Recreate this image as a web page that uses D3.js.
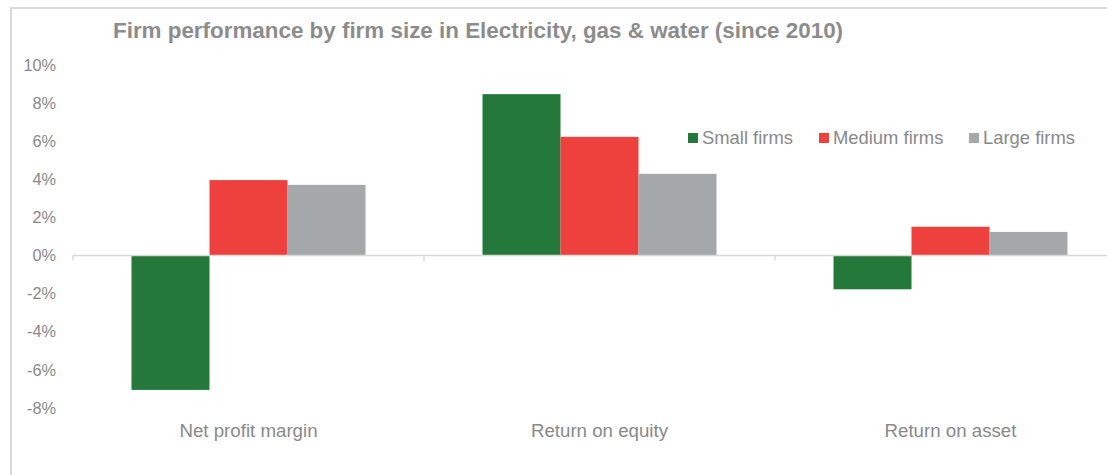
<html>
<head>
<title>Firm performance</title>
<script type="text/javascript" src="https://cdn.jsdelivr.net/npm/d3@7"></script>
<style type="text/css">
body { margin: 0; background: white; }
text { font-family: "Liberation Sans", Arial, sans-serif; fill: #898989; }
</style>
</head>
<body>
<script>

  var width = 1107,
  height = 475;

  var categories = ["Net profit margin", "Return on equity", "Return on asset"];
  var seriesNames = ["Small firms", "Medium firms", "Large firms"];
  var colors = ["#23783a", "#ee403d", "#a5a8aa"];
  var small = [-7.05, 8.47, -1.77];
  var medium = [3.96, 6.23, 1.51];
  var large = [3.71, 4.29, 1.24];
  var yTicks = [-8, -6, -4, -2, 0, 2, 4, 6, 8, 10];

  var values = [small, medium, large];

  var svg = d3.select("body").append("svg").attr("width", width).attr("height", height).style("background", "white");

  // chart border (runs off the right and bottom of the picture)
  svg.append("rect").attr("x", 11).attr("y", 8).attr("width", 1130).attr("height", 500)
  .attr("fill", "none").attr("stroke", "#d9d9d9").attr("stroke-width", 2);

  svg.append("text").text("Firm performance by firm size in Electricity, gas & water (since 2010)")
  .attr("x", 113).attr("y", 38).attr("font-size", 22.4).attr("font-weight", "bold")
  .style("fill", "#8c8c8c");

  var x = d3.scaleBand().domain(categories).range([73, 1126]).padding(0);
  var bw = x.bandwidth();
  var xs = d3.scaleBand().domain(seriesNames).range([bw / 6, bw * 5 / 6]).padding(0);
  var y = d3.scaleLinear().domain([-8, 10]).range([408, 65]);

  // y labels
  svg.selectAll(".ylab").data(yTicks).enter().append("text").attr("class", "ylab")
  .attr("x", 56).attr("y", function(d){ return y(d); }).attr("dy", "0.35em")
  .attr("text-anchor", "end").attr("font-size", 16.3)
  .text(function(d){ return d + "%"; });

  // bars
  var grp = svg.append("g");
  seriesNames.forEach(function(s, si){
    grp.selectAll(".bar" + si).data(values[si]).enter().append("rect").attr("class", "bar" + si)
    .attr("x", function(d, i){ return x(categories[i]) + xs(s); })
    .attr("width", xs.bandwidth())
    .attr("y", function(d){ return Math.min(y(d), y(0)); })
    .attr("height", function(d){ return Math.abs(y(d) - y(0)); })
    .attr("fill", colors[si]);
  });

  // zero axis line and category ticks
  svg.append("line").attr("x1", 73).attr("x2", 1126).attr("y1", y(0)).attr("y2", y(0))
  .attr("stroke", "#d9d9d9").attr("stroke-width", 1.5);
  var bounds = categories.map(function(c){ return x(c); }).concat([x.range()[1]]);
  svg.selectAll(".tick").data(bounds).enter().append("line").attr("class", "tick")
  .attr("x1", function(d){ return d; }).attr("x2", function(d){ return d; })
  .attr("y1", y(0)).attr("y2", y(0) + 5)
  .attr("stroke", "#d9d9d9").attr("stroke-width", 1.5);

  // category labels
  svg.selectAll(".xlab").data(categories).enter().append("text").attr("class", "xlab")
  .attr("x", function(d){ return x(d) + bw / 2; }).attr("y", 437)
  .attr("text-anchor", "middle").attr("font-size", 18.7)
  .text(function(d){ return d; });

  // legend
  var legX = [688, 819, 969];
  var leg = svg.selectAll(".leg").data(seriesNames).enter().append("g").attr("class", "leg")
  .attr("transform", function(d, i){ return "translate(" + legX[i] + ",133)"; });
  leg.append("rect").attr("width", 10).attr("height", 10).attr("fill", function(d, i){ return colors[i]; });
  leg.append("text").attr("x", 14).attr("y", 11).attr("font-size", 18.4).text(function(d){ return d; });

</script>
</body>
</html>
